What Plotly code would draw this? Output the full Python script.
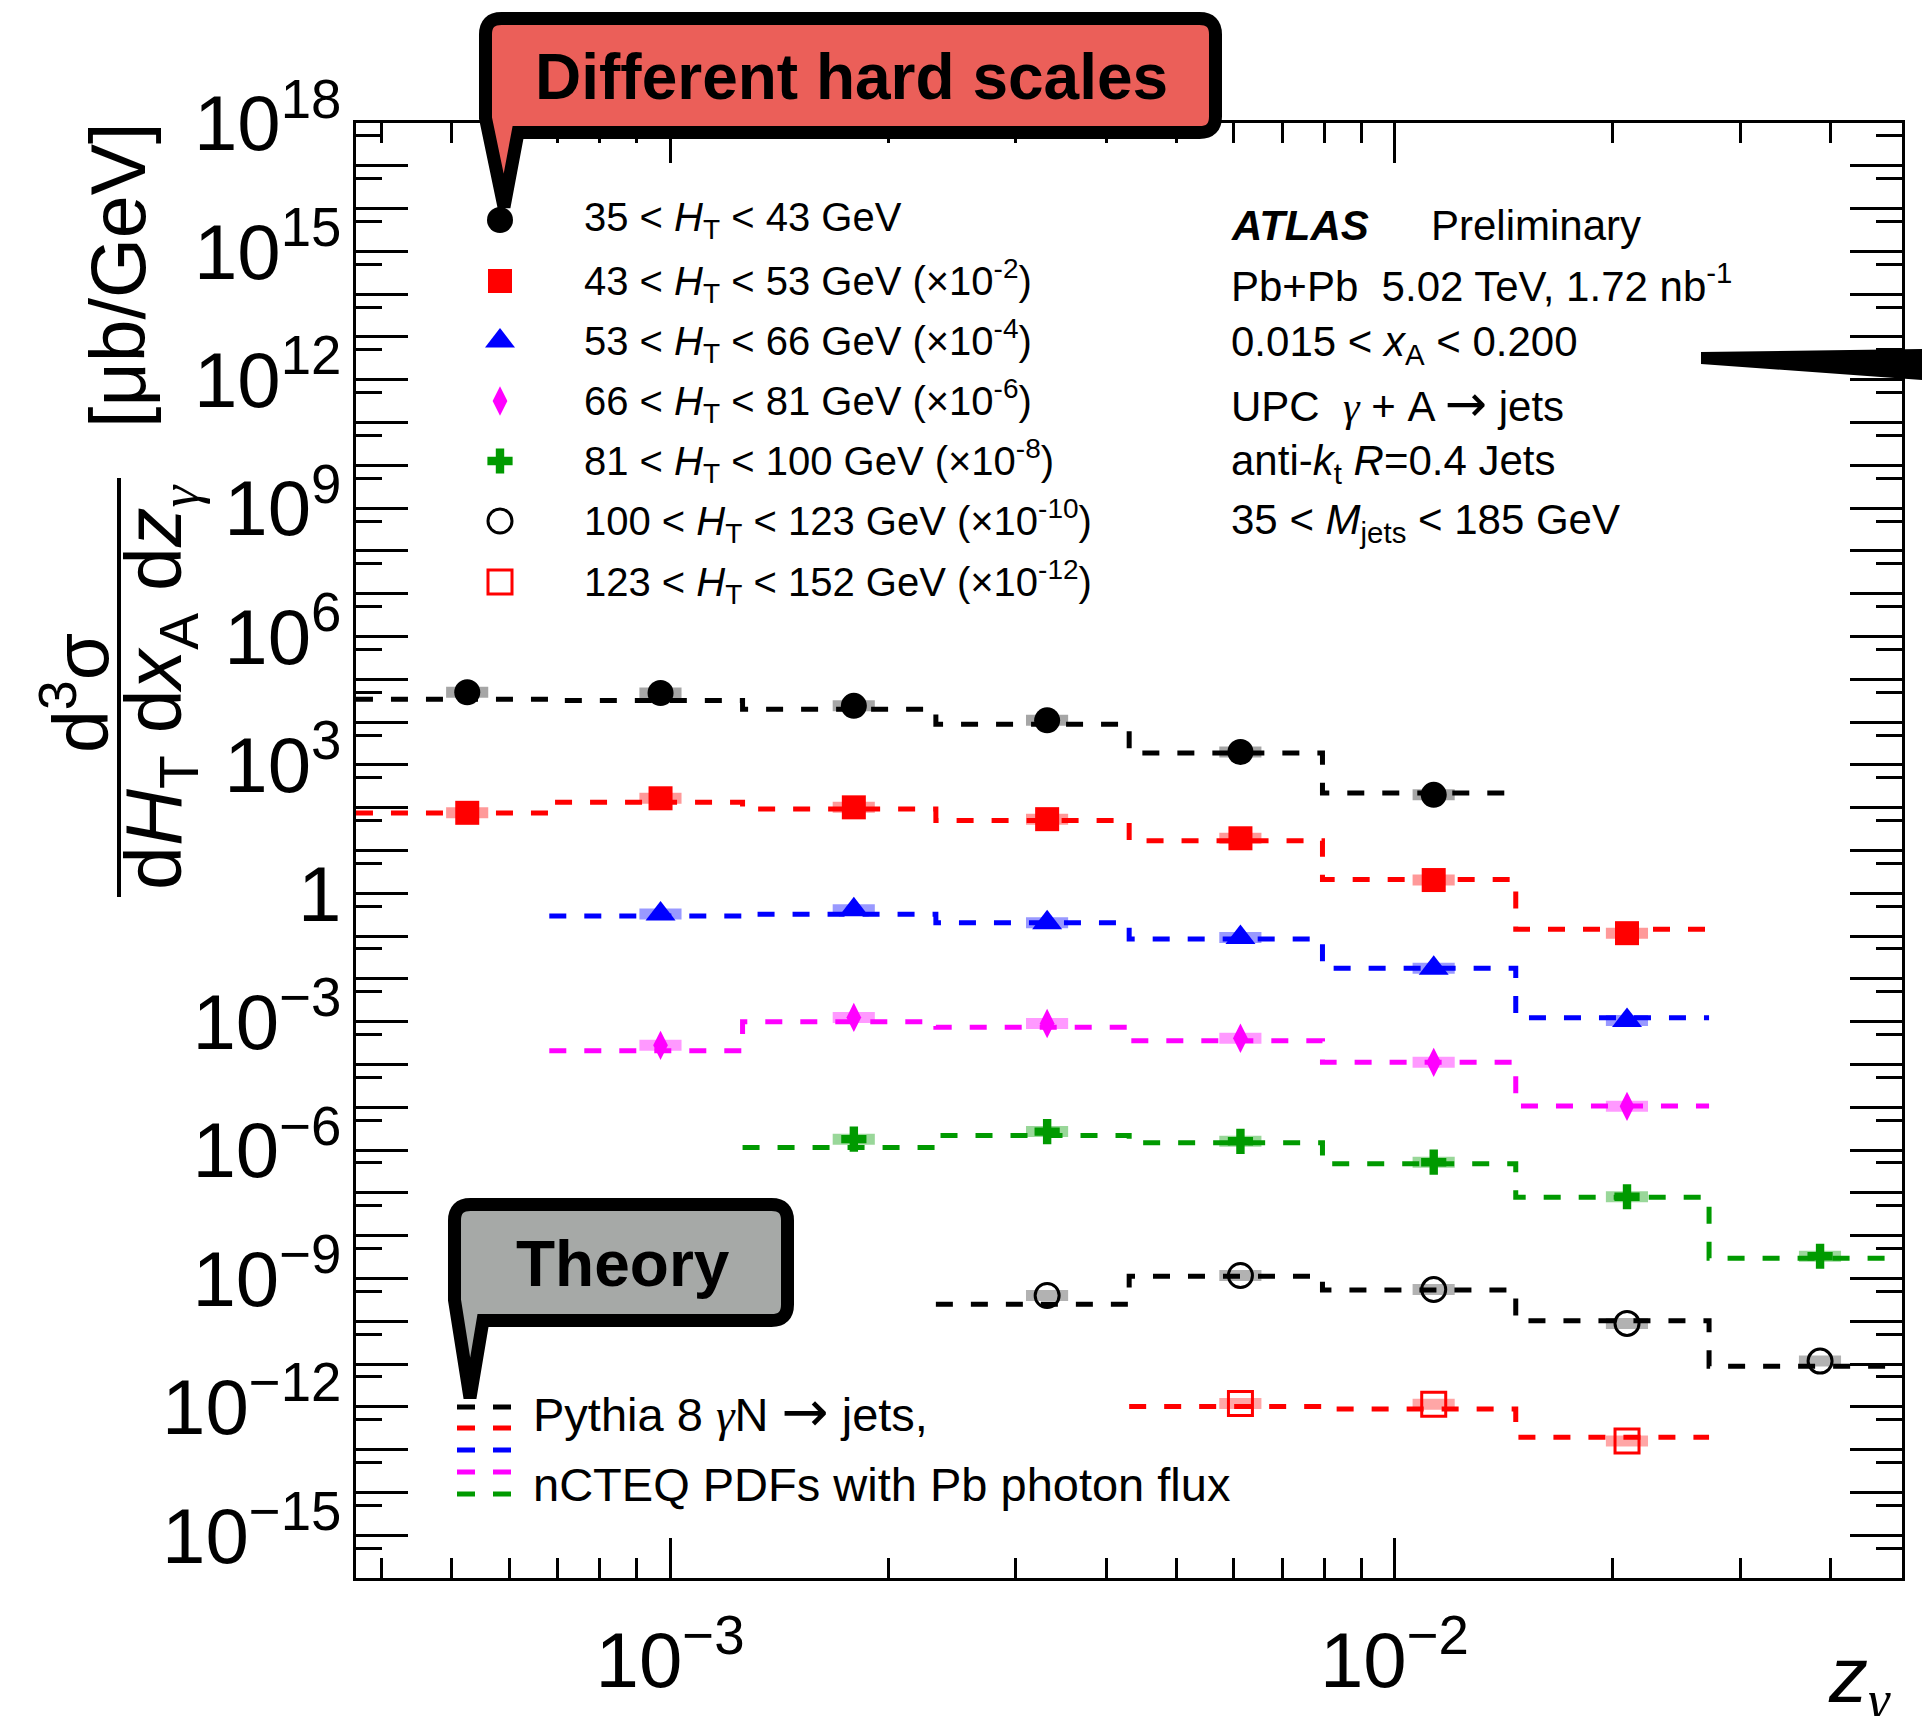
import plotly.graph_objects as go

# ---------------- data ----------------
z_edges = [3.686e-4, 6.814e-4, 1.2594e-3, 2.3280e-3, 4.3031e-3, 7.954e-3, 1.4702e-2, 2.7176e-2, 5.017e-2]
z_points = [5.250e-4, 9.704e-4, 1.7937e-3, 3.3156e-3, 6.1286e-3, 1.1328e-2, 2.0939e-2, 3.8673e-2]

ht_bins = ["35 &lt; <i>H</i><sub>T</sub> &lt; 43 GeV",
           "43 &lt; <i>H</i><sub>T</sub> &lt; 53 GeV",
           "53 &lt; <i>H</i><sub>T</sub> &lt; 66 GeV",
           "66 &lt; <i>H</i><sub>T</sub> &lt; 81 GeV",
           "81 &lt; <i>H</i><sub>T</sub> &lt; 100 GeV",
           "100 &lt; <i>H</i><sub>T</sub> &lt; 123 GeV",
           "123 &lt; <i>H</i><sub>T</sub> &lt; 152 GeV"]
scale_labels = ["", " (×10<sup>-2</sup>)", " (×10<sup>-4</sup>)", " (×10<sup>-6</sup>)",
                " (×10<sup>-8</sup>)", " (×10<sup>-10</sup>)", " (×10<sup>-12</sup>)"]
first_bin = [0, 0, 1, 1, 2, 3, 4]

data_35_43 = [5.0e4, 4.8e4, 2.4e4, 1.1e4, 2.0e3, 2.0e2]
data_43_53 = [76, 166, 102, 54, 19.3, 2.04, 0.117]
data_53_66 = [0.33, 0.41, 0.204, 0.093, 0.0178, 1.07e-3]
data_66_81 = [2.8e-4, 1.26e-3, 9.1e-4, 4.1e-4, 1.12e-4, 1.05e-5]
data_81_100 = [1.8e-6, 2.7e-6, 1.6e-6, 5.2e-7, 8.1e-8, 3.3e-9]
data_100_123 = [4.0e-10, 1.17e-9, 5.5e-10, 8.9e-11, 1.17e-11]
data_123_152 = [1.2e-12, 1.15e-12, 1.58e-13]

theory_35_43 = [3.4e4, 3.2e4, 2.0e4, 8.9e3, 1.9e3, 2.2e2]
theory_43_53 = [75, 135, 93, 50, 17, 2.1, 0.145]
theory_53_66 = [0.295, 0.324, 0.204, 0.085, 0.0178, 1.23e-3]
theory_66_81 = [2.1e-4, 1.0e-3, 7.4e-4, 3.6e-4, 1.12e-4, 1.07e-5]
theory_81_100 = [1.15e-6, 2.2e-6, 1.48e-6, 4.8e-7, 7.9e-8, 2.95e-9]
theory_100_123 = [2.5e-10, 1.12e-9, 5.4e-10, 1.02e-10, 8.9e-12]
theory_123_152 = [1.02e-12, 8.9e-13, 1.95e-13]

data_series = [data_35_43, data_43_53, data_53_66, data_66_81, data_81_100, data_100_123, data_123_152]
theory_series = [theory_35_43, theory_43_53, theory_53_66, theory_66_81, theory_81_100, theory_100_123, theory_123_152]

y_tick_exponents = list(range(-16, 19))
x_major_ticks = [1e-3, 1e-2]
x_minor_ticks = [4e-4, 5e-4, 6e-4, 7e-4, 8e-4, 9e-4, 2e-3, 3e-3, 4e-3, 5e-3, 6e-3, 7e-3, 8e-3, 9e-3, 2e-2, 3e-2, 4e-2]

# ---------------- styles ----------------
colors = ["#000000", "#ff0000", "#0000ff", "#ff00ff", "#009a00", "#000000", "#ff0000"]
box_colors = ["rgba(0,0,0,0.35)", "rgba(255,0,0,0.4)", "rgba(0,0,255,0.4)", "rgba(255,0,255,0.4)",
              "rgba(0,154,0,0.4)", "rgba(0,0,0,0.3)", "rgba(255,0,0,0.35)"]
symbols = ["circle", "square", "triangle-up", "diamond-tall", "cross", "circle-open", "square-open"]
sizes = [26, 24, 26, 21, 21, 24, 24]
FONT = "Liberation Sans, Arial, Helvetica, sans-serif"
GAMMA = '<span style="font-family:Liberation Serif"><i>γ</i></span>'
ARROW = '<span style="font-family:DejaVu Sans;font-size:1.2em">\u2192</span>'

W, H = 1922, 1716
L, R, T, B = 356, 1902, 123, 1578


def px(x):
    return (x - L) / (R - L)


def py(y):
    return (B - y) / (B - T)


fig = go.Figure()

# theory step lines
for i, th in enumerate(theory_series):
    fb = first_bin[i]
    xs = z_edges[fb:fb + len(th) + 1]
    ys = list(th) + [th[-1]]
    fig.add_trace(go.Scatter(x=xs, y=ys, mode="lines", line_shape="hv",
                             line=dict(color=colors[i], width=5, dash="17px,18px"),
                             hoverinfo="skip", showlegend=False))

# data points with systematic boxes
for i, d in enumerate(data_series):
    fb = first_bin[i]
    xs = z_points[fb:fb + len(d)]
    fig.add_trace(go.Scatter(
        x=xs, y=d, mode="markers",
        marker=dict(symbol=symbols[i], size=sizes[i], color=colors[i],
                    line=dict(color=colors[i], width=3 if "open" in symbols[i] else 0)),
        error_x=dict(type="percent", symmetric=False, value=6.9, valueminus=6.5,
                     thickness=11, width=0, color=box_colors[i]),
        showlegend=False))

# legend markers on an overlay (pixel) axis
leg_rows = [220, 281, 341, 401, 461, 521, 582]
for i in range(7):
    fig.add_trace(go.Scatter(
        x=[500], y=[leg_rows[i]], xaxis="x2", yaxis="y2", mode="markers",
        marker=dict(symbol=symbols[i], size=sizes[i], color=colors[i],
                    line=dict(color=colors[i], width=3 if "open" in symbols[i] else 0)),
        showlegend=False, hoverinfo="skip"))

ytickvals = [10.0 ** k for k in y_tick_exponents]
yticktext = []
for k in y_tick_exponents:
    if k % 3 != 0:
        yticktext.append("")
    elif k == 0:
        yticktext.append("1")
    elif k < 0:
        yticktext.append("10<sup>\u2212%d</sup>" % (-k))
    else:
        yticktext.append("10<sup>%d</sup>" % k)
y_minor = [5 * 10.0 ** k for k in range(-16, 18)]

xticktext = ["10<sup>\u22123</sup>", "10<sup>\u22122</sup>"]

fig.update_layout(
    width=W, height=H, autosize=False,
    margin=dict(l=L, r=W - R, t=T, b=H - B, pad=0, autoexpand=False),
    paper_bgcolor="white", plot_bgcolor="white",
    font=dict(family=FONT, color="black"),
    showlegend=False,
    xaxis=dict(type="log", range=[-3.4334, -1.2995], showgrid=False, zeroline=False,
               showline=True, linecolor="black", linewidth=3, mirror="ticks", automargin=False,
               ticks="inside", ticklen=40, tickwidth=2.5, tickcolor="black",
               tickmode="array", tickvals=x_major_ticks, ticktext=xticktext,
               tickfont=dict(size=78, family=FONT), ticklabelstandoff=12,
               minor=dict(ticks="inside", ticklen=20, tickwidth=2.5, tickcolor="black",
                          tickvals=x_minor_ticks, showgrid=False)),
    yaxis=dict(type="log", range=[-16, 18], showgrid=False, zeroline=False,
               showline=True, linecolor="black", linewidth=3, mirror="ticks", automargin=False,
               ticks="inside", ticklen=52, tickwidth=2.5, tickcolor="black",
               tickmode="array", tickvals=ytickvals, ticktext=yticktext,
               tickfont=dict(size=78, family=FONT), ticklabelstandoff=-4,
               minor=dict(ticks="inside", ticklen=26, tickwidth=2.5, tickcolor="black",
                          tickvals=y_minor, showgrid=False)),
    xaxis2=dict(range=[L, R], overlaying="x", anchor="y2", visible=False, automargin=False),
    yaxis2=dict(range=[B, T], overlaying="y", anchor="x2", visible=False, automargin=False),
)


def path(points):
    s = ""
    for cmd, pts in points:
        s += cmd + " ".join("%.5f,%.5f" % (px(a), py(b)) for a, b in pts) + " "
    return s + "Z"


# callout "Different hard scales"
callout1 = path([("M", [(501.5, 18.5)]), ("L", [(1199.5, 18.5)]),
                 ("Q", [(1215.5, 18.5), (1215.5, 34.5)]), ("L", [(1215.5, 116.5)]),
                 ("Q", [(1215.5, 132.5), (1199.5, 132.5)]), ("L", [(518, 132.5)]),
                 ("L", [(504, 207)]), ("L", [(485.5, 118)]), ("L", [(485.5, 34.5)]),
                 ("Q", [(485.5, 18.5), (501.5, 18.5)])])
callout2 = path([("M", [(470.5, 1204.5)]), ("L", [(771.5, 1204.5)]),
                 ("Q", [(787.5, 1204.5), (787.5, 1220.5)]), ("L", [(787.5, 1304.5)]),
                 ("Q", [(787.5, 1320.5), (771.5, 1320.5)]), ("L", [(483, 1320.5)]),
                 ("L", [(470, 1398)]), ("L", [(454.5, 1300)]), ("L", [(454.5, 1220.5)]),
                 ("Q", [(454.5, 1204.5), (470.5, 1204.5)])])
wedge = path([("M", [(1701, 352)]), ("L", [(1922, 349)]), ("L", [(1922, 380)]), ("L", [(1701, 364)])])

shapes = [
    dict(type="path", xref="paper", yref="paper", path=callout1, fillcolor="#eb5f59",
         line=dict(color="black", width=13), layer="above"),
    dict(type="path", xref="paper", yref="paper", path=callout2, fillcolor="#a6a9a7",
         line=dict(color="black", width=13), layer="above"),
    dict(type="path", xref="paper", yref="paper", path=wedge, fillcolor="black",
         line=dict(color="black", width=0), layer="above"),
    dict(type="line", xref="paper", yref="paper", x0=px(119), x1=px(119), y0=py(478), y1=py(897),
         line=dict(color="black", width=4)),
]
# theory legend dashes
theory_rows = [1407, 1428, 1450, 1472, 1494]
theory_cols = ["#000000", "#ff0000", "#0000ff", "#ff00ff", "#009a00"]
for yy, cc in zip(theory_rows, theory_cols):
    shapes.append(dict(type="line", xref="paper", yref="paper", x0=px(457), x1=px(511),
                       y0=py(yy), y1=py(yy), line=dict(color=cc, width=5, dash="18px,18px")))
fig.update_layout(shapes=shapes)

ann = []


def text(x, y, s, size, xanchor="left", angle=0, yanchor="middle"):
    ann.append(dict(x=px(x), y=py(y), xref="paper", yref="paper", text=s, showarrow=False,
                    xanchor=xanchor, yanchor=yanchor, textangle=angle,
                    font=dict(size=size, family=FONT, color="black")))


for i in range(7):
    text(582, leg_rows[i], ht_bins[i] + scale_labels[i], 40)

text(1229, 226, "<b><i>ATLAS</i></b>", 42)
text(1429, 226, "Preliminary", 42)
text(1229, 283, "Pb+Pb\u00a0\u00a05.02 TeV, 1.72 nb<sup>-1</sup>", 42)
text(1229, 344, "0.015 &lt; <i>x</i><sub>A</sub> &lt; 0.200", 42)
text(1229, 403, "UPC\u00a0\u00a0" + GAMMA + " + A " + ARROW + " jets", 42)
text(1229, 464, "anti-<i>k</i><sub>t</sub> <i>R</i>=0.4 Jets", 42)
text(1229, 522, "35 &lt; <i>M</i><sub>jets</sub> &lt; 185 GeV", 42)

text(531, 1411, "Pythia 8 " + GAMMA + "N " + ARROW + " jets,", 47)
text(531, 1484, "nCTEQ PDFs with Pb photon flux", 47)

text(851, 77, "<b>Different hard scales</b>", 64, xanchor="center")
text(623, 1264, "<b>Theory</b>", 64, xanchor="center")

# y-axis title (fraction)
text(118, 276, "[μb/GeV]", 77, xanchor="center", angle=-90)
text(75, 693, "d<sup>3</sup>σ", 77, xanchor="center", angle=-90)
text(160, 688, "d<i>H</i><sub>T</sub> d<i>x</i><sub>A</sub> d<i>z</i><sub>" + GAMMA + "</sub>", 79,
     xanchor="center", angle=-90)
# x-axis title
text(1826, 1680, "<i>z</i><sub>" + GAMMA + "</sub>", 78, xanchor="left")

fig.update_layout(annotations=ann)

fig.write_html("out.html", config={"displayModeBar": False},
               post_script="document.body.style.margin='0px';")
